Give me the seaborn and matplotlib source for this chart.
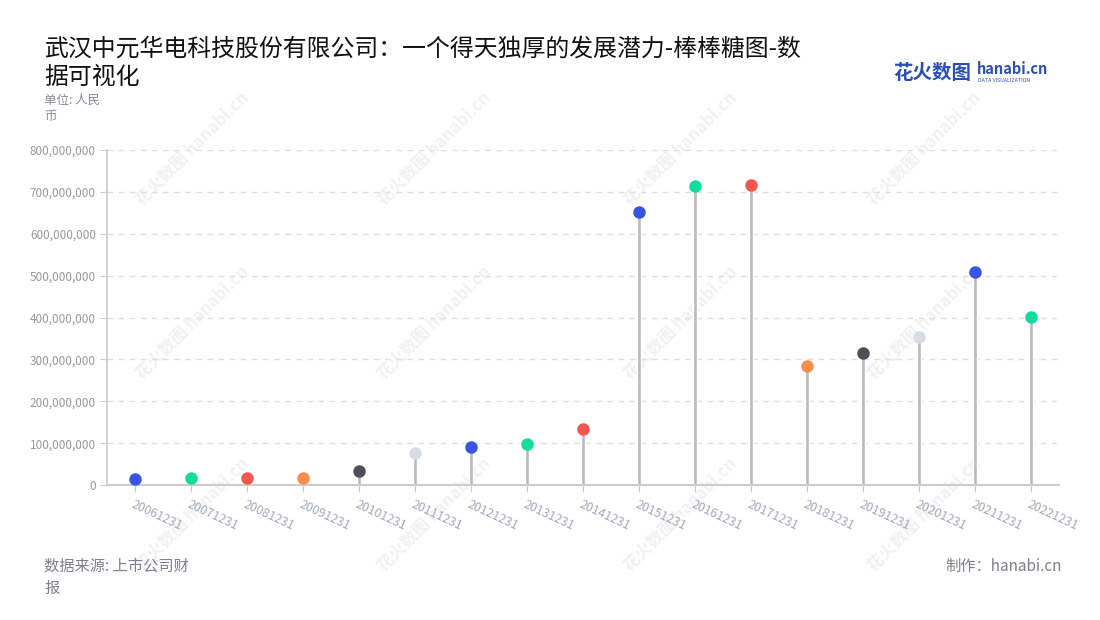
import pandas as pd
import matplotlib
matplotlib.use('Agg')
import matplotlib.pyplot as plt
import seaborn as sns

# 数据
dates = ['20061231', '20071231', '20081231', '20091231', '20101231', '20111231',
         '20121231', '20131231', '20141231', '20151231', '20161231', '20171231',
         '20181231', '20191231', '20201231', '20211231', '20221231']
values = [14e6, 16e6, 17e6, 16e6, 33e6, 76e6, 90e6, 99e6, 134e6, 652e6, 714e6,
          716e6, 284e6, 315e6, 353e6, 508e6, 401e6]
dot_colors = ['#3a55e3', '#14dc9c', '#f5574f', '#fb8d4e', '#4f4f58', '#d8dce7',
              '#3a55e3', '#14dc9c', '#f5574f', '#3a55e3', '#14dc9c', '#f5574f',
              '#fb8d4e', '#4f4f58', '#d8dce7', '#3a55e3', '#14dc9c']

df = pd.DataFrame({'日期': dates, '金额': values})

sns.set_style('white')
plt.rcParams['font.family'] = ['Noto Sans CJK SC', 'DejaVu Sans']
plt.rcParams['axes.unicode_minus'] = False

fig = plt.figure(figsize=(11, 6.2), dpi=100)
ax = fig.add_axes([0.0973, 0.2177, 0.8654, 0.5403])

# 水印（放在坐标轴下层）
for wx in [0.175, 0.395, 0.618, 0.84]:
    for wy in [0.76, 0.48, 0.17]:
        fig.text(wx, wy, '花火数图 hanabi.cn', fontsize=12, color='#f1f1f1',
                 rotation=45, ha='center', va='center', fontweight='bold', zorder=-5)

# 棒棒糖：细柱 + 圆点
sns.barplot(data=df, x='日期', y='金额', color='#bababa', width=0.07,
            saturation=1, ax=ax, zorder=2)
sns.stripplot(data=df, x='日期', y='金额', hue='日期', palette=dot_colors,
              jitter=False, size=9, legend=False, ax=ax, zorder=3, linewidth=0)

ax.set_xlim(-0.5, len(dates) - 0.5)
ax.set_ylim(0, 800e6)
ax.set_yticks(range(0, 800000001, 100000000))
ax.yaxis.set_major_formatter(matplotlib.ticker.FuncFormatter(lambda v, p: f'{int(v):,}'))
ax.set_xlabel('')
ax.set_ylabel('')
ax.patch.set_alpha(0)

ax.grid(axis='y', linestyle=(0, (4, 4)), color='#e0e0e0', linewidth=1)
ax.set_axisbelow(True)
for s in ['top', 'right']:
    ax.spines[s].set_visible(False)
ax.spines['left'].set_color('#cccccc')
ax.spines['bottom'].set_color('#cccccc')
ax.spines['left'].set_linewidth(1.2)
ax.spines['bottom'].set_linewidth(1.5)

ax.tick_params(axis='y', left=True, length=5, color='#cccccc', labelsize=8.5,
               labelcolor='#999999', pad=3)
ax.tick_params(axis='x', bottom=True, length=5, color='#cccccc', labelsize=8.8,
               labelcolor='#a3a7ba', pad=4)
for lab in ax.get_xticklabels():
    lab.set_rotation(-25)
    lab.set_ha('left')
    lab.set_rotation_mode('anchor')

# 标题与注释
fig.text(0.04, 0.94, '武汉中元华电科技股份有限公司：一个得天独厚的发展潜力-棒棒糖图-数\n据可视化',
         fontsize=17.2, color='#111111', va='top', linespacing=1.3)
fig.text(0.04, 0.848, '单位: 人民\n币', fontsize=9, color='#8a8a96', va='top', linespacing=1.3)
fig.text(0.04, 0.1, '数据来源: 上市公司财\n报', fontsize=11, color='#7f7f8d', va='top',
         linespacing=1.4)
fig.text(0.965, 0.1, '制作：hanabi.cn', fontsize=11, color='#7f7f8d', va='top', ha='right')

# logo
fig.text(0.812, 0.882, '花火数图', fontsize=14, color='#2b4fb8', fontweight='bold', va='center')
fig.text(0.888, 0.889, 'hanabi.cn', fontsize=10.5, color='#2b4fb8', fontweight='bold', va='center')
fig.text(0.889, 0.87, 'DATA VISUALIZATION', fontsize=3.8, color='#2b4fb8', va='center')

fig.savefig('out.png', dpi=100, facecolor='white')
